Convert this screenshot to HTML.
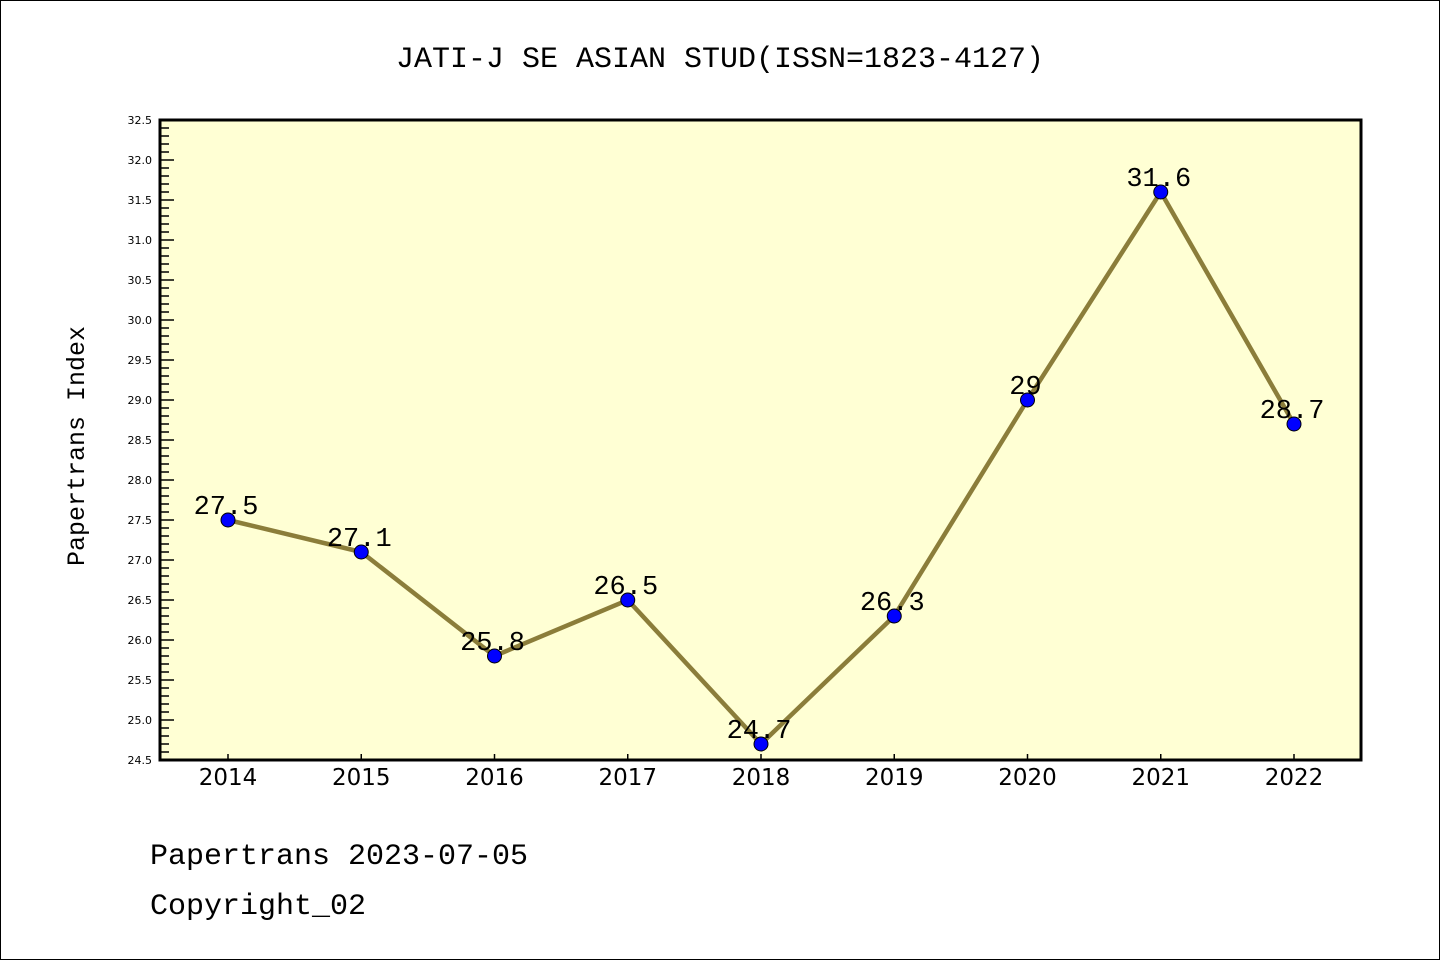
<!DOCTYPE html>
<html><head><meta charset="utf-8"><style>
body{margin:0;background:#fff}
svg{display:block}
</style></head><body>
<svg width="1440" height="960" xmlns="http://www.w3.org/2000/svg">
<rect x="0.5" y="0.5" width="1439" height="959" fill="#fff" stroke="#000"/>
<text x="720" y="67" text-anchor="middle" font-family="WenQuanYi Zen Hei, Liberation Mono, monospace" font-size="30">JATI-J SE ASIAN STUD(ISSN=1823-4127)</text>
<rect x="160" y="120" width="1201" height="640" fill="#ffffd4"/>
<g id="yticks"></g>
<g id="xticks"></g>
<g id="series"></g>
<rect x="160" y="120" width="1201" height="640" fill="none" stroke="#000" stroke-width="3"/>
<text transform="translate(84,446) rotate(-90)" text-anchor="middle" font-family="WenQuanYi Zen Hei, Liberation Mono, monospace" font-size="25">Papertrans Index</text>
<text x="150" y="864" font-family="WenQuanYi Zen Hei, Liberation Mono, monospace" font-size="30">Papertrans 2023-07-05</text>
<text x="150" y="914" font-family="WenQuanYi Zen Hei, Liberation Mono, monospace" font-size="30">Copyright_02</text>
</svg>
<script>
const years=[2014,2015,2016,2017,2018,2019,2020,2021,2022];
const values=[27.5,27.1,25.8,26.5,24.7,26.3,29,31.6,28.7];
const valueLabels=["27.5","27.1","25.8","26.5","24.7","26.3","29","31.6","28.7"];
const yMin=24.5,yMax=32.5;
const NS="http://www.w3.org/2000/svg";
const X=i=>228+i*(1294-228)/(years.length-1);
const Y=v=>760-(v-yMin)/(yMax-yMin)*640;
function mk(t,a,p){const e=document.createElementNS(NS,t);for(const k in a)e.setAttribute(k,a[k]);p.appendChild(e);return e;}
const yg=document.getElementById('yticks');
for(let k=0;k<=80;k++){const v=yMin+k*0.1;const y=Y(v);const major=k%5===0;
 const l=mk('line',{x1:160,x2:160+(major?14:9),y1:y,y2:y,stroke:'#000','stroke-width':1.5},yg);
 
 
 if(major){const t=mk('text',{x:152,y:y+4,'text-anchor':'end','font-family':'DejaVu Sans, sans-serif','font-size':11},yg);t.textContent=v.toFixed(1);
 
 }}
const xg=document.getElementById('xticks');
years.forEach((yr,i)=>{const x=X(i);
 const l=mk('line',{x1:x,x2:x,y1:760,y2:754,stroke:'#000','stroke-width':1.5},xg);
 
 
 const t=mk('text',{x:x,y:785,'text-anchor':'middle','font-family':'DejaVu Sans, sans-serif','font-size':23},xg);t.textContent=yr;
 
 });
const sg=document.getElementById('series');
const pl=mk('polyline',{points:values.map((v,i)=>X(i)+','+Y(v)).join(' '),fill:'none',stroke:'#8b7d3a','stroke-width':4.5},sg);


values.forEach((v,i)=>{
 const c=mk('circle',{cx:X(i),cy:Y(v),r:7,fill:'#0000ff',stroke:'#000','stroke-width':1},sg);
 
 
 const t=mk('text',{x:X(i)-2,y:Y(v)-6,'text-anchor':'middle','font-family':'WenQuanYi Zen Hei, Liberation Mono, monospace','font-size':27},sg);t.textContent=valueLabels[i];
 
 });
</script>
</body></html>
